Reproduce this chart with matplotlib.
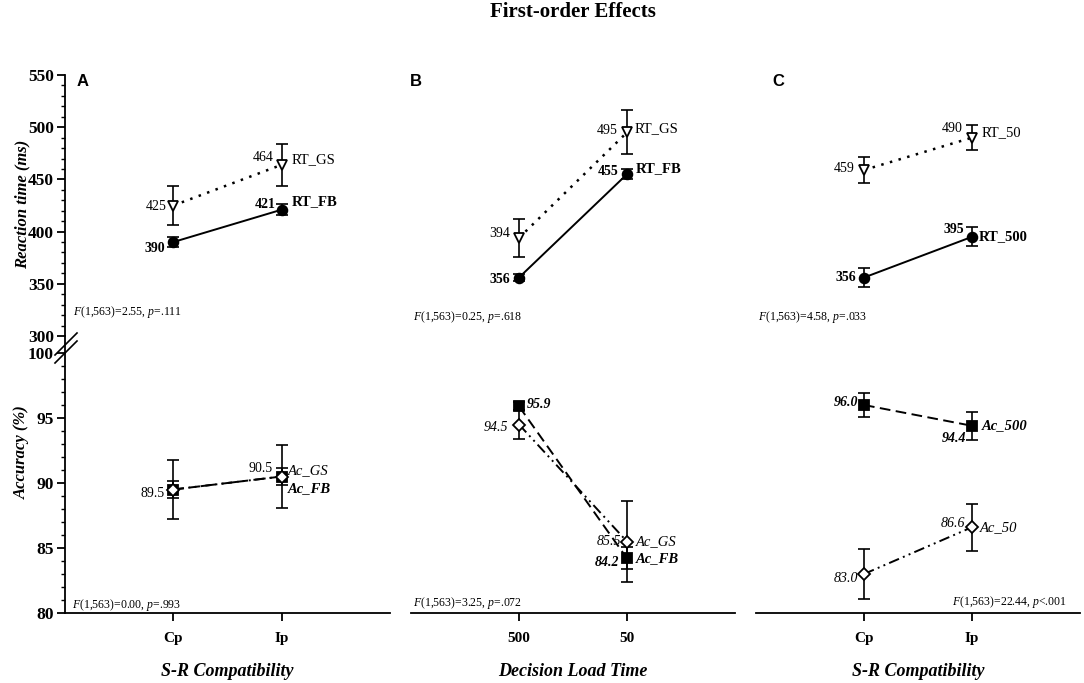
import matplotlib
matplotlib.use('Agg')
import matplotlib.pyplot as plt
from matplotlib.lines import Line2D
from matplotlib.ticker import MultipleLocator

plt.rcParams['font.family'] = 'Liberation Serif'
plt.rcParams['mathtext.fontset'] = 'custom'
plt.rcParams['mathtext.rm'] = 'Liberation Serif'
plt.rcParams['mathtext.it'] = 'Liberation Serif:italic'

# ---- data ----
a_ticks = ['Cp', 'Ip']
a_rt_gs = [425, 464]
a_rt_gs_err = [19, 20]
a_rt_fb = [390, 421]
a_rt_fb_err = [5, 5]
a_ac_gs = [89.5, 90.5]
a_ac_gs_err = [2.3, 2.4]
a_ac_fb = [89.5, 90.5]
a_ac_fb_err = [0.65, 0.65]

b_ticks = ['500', '50']
b_rt_gs = [394, 495]
b_rt_gs_err = [18, 21]
b_rt_fb = [356, 455]
b_rt_fb_err = [3, 5]
b_ac_gs = [94.5, 85.5]
b_ac_gs_err = [1.1, 3.1]
b_ac_fb = [95.9, 84.2]
b_ac_fb_err = [0.3, 0.85]

c_ticks = ['Cp', 'Ip']
c_rt_50 = [459, 490]
c_rt_50_err = [12, 12]
c_rt_500 = [356, 395]
c_rt_500_err = [9, 9]
c_ac_500 = [96.0, 94.4]
c_ac_500_err = [0.95, 1.1]
c_ac_50 = [83.0, 86.6]
c_ac_50_err = [1.9, 1.8]

stats_rt = ['$\\mathit{F}$(1,563)=2.55, $\\mathit{p}$=.111',
            '$\\mathit{F}$(1,563)=0.25, $\\mathit{p}$=.618',
            '$\\mathit{F}$(1,563)=4.58, $\\mathit{p}$=.033']
stats_ac = ['$\\mathit{F}$(1,563)=0.00, $\\mathit{p}$=.993',
            '$\\mathit{F}$(1,563)=3.25, $\\mathit{p}$=.072',
            '$\\mathit{F}$(1,563)=22.44, $\\mathit{p}$<.001']
x_titles = ['S-R Compatibility', 'Decision Load Time', 'S-R Compatibility']


# draw one series: error bars, connecting line, then markers on top
def draw_series(ax, vals, errs, marker, filled, ls, ms, line_z, mark_z, lw=1.4):
    x = [0, 1]
    ax.errorbar(x, vals, yerr=errs, fmt='none', ecolor='black',
                elinewidth=1.2, capsize=4.5, capthick=1.2, zorder=line_z)
    ax.plot(x, vals, color='black', ls=ls, lw=lw, zorder=line_z)
    ax.plot(x, vals, ls='none', marker=marker, ms=ms,
            mfc='black' if filled else 'white', mec='black', mew=1.3,
            zorder=mark_z)


def note(ax, x, y, s, dx, dy, ha='right', weight='normal', style='normal', size=10):
    ax.annotate(s, (x, y), xytext=(dx, dy), textcoords='offset pixels',
                ha=ha, va='center', fontsize=size, fontweight=weight,
                fontstyle=style, annotation_clip=False)


W, H = 1084, 683
fig = plt.figure(figsize=(W / 100, H / 100), dpi=100)

col_px = [(65, 390), (411, 735), (756, 1080)]
top_px = (75, 336)
bot_px = (353, 613)

dotted = (0, (1, 2.6))
dashed = (0, (5.5, 2.8))
dashdotdot = (0, (5.5, 2.2, 1, 2.2, 1, 2.2))

axes_top, axes_bot = [], []
for i, (x0, x1) in enumerate(col_px):
    at = fig.add_axes([x0 / W, 1 - top_px[1] / H, (x1 - x0) / W, (top_px[1] - top_px[0]) / H])
    ab = fig.add_axes([x0 / W, 1 - bot_px[1] / H, (x1 - x0) / W, (bot_px[1] - bot_px[0]) / H])
    for ax in (at, ab):
        ax.set_xlim(-1, 2)
        ax.patch.set_alpha(0)
        for s in ('top', 'right'):
            ax.spines[s].set_visible(False)
        ax.spines['left'].set_visible(i == 0)
        ax.spines['left'].set_linewidth(1.3)
    at.spines['bottom'].set_visible(False)
    ab.spines['bottom'].set_linewidth(1.3)
    at.set_ylim(300, 550)
    ab.set_ylim(80, 100)
    at.set_xticks([])
    ab.set_xticks([0, 1])
    ab.tick_params(axis='x', direction='out', length=6, width=1.3, pad=8,
                   labelsize=11)
    ab.set_xlabel(x_titles[i], fontsize=13, fontweight='bold', style='italic',
                  labelpad=13)
    if i == 0:
        at.yaxis.set_major_locator(MultipleLocator(50))
        at.yaxis.set_minor_locator(MultipleLocator(10))
        ab.yaxis.set_major_locator(MultipleLocator(5))
        ab.yaxis.set_minor_locator(MultipleLocator(1))
        for ax in (at, ab):
            ax.tick_params(axis='y', which='major', direction='out', length=6,
                           width=1.3, labelsize=12.5, pad=2)
            ax.tick_params(axis='y', which='minor', direction='out', length=3,
                           width=1.0)
            for lab in ax.get_yticklabels():
                lab.set_fontweight('bold')
    else:
        at.set_yticks([])
        ab.set_yticks([])
    axes_top.append(at)
    axes_bot.append(ab)

for ax, labels in zip(axes_bot, [a_ticks, b_ticks, c_ticks]):
    ax.set_xticklabels(labels, fontweight='bold')

# ---- panel A ----
ax = axes_top[0]
draw_series(ax, a_rt_fb, a_rt_fb_err, 'o', True, '-', 7, 2, 3)
draw_series(ax, a_rt_gs, a_rt_gs_err, 'v', False, dotted, 7, 2, 3, lw=1.8)
note(ax, 0, a_rt_gs[0], '425', -7, -1)
note(ax, 1, a_rt_gs[1], '464', -8, 7)
note(ax, 1, a_rt_gs[1], 'RT_GS', 10, 5, ha='left', size=10.5)
note(ax, 0, a_rt_fb[0], '390', -8, -6, weight='bold')
note(ax, 1, a_rt_fb[1], '421', -6, 5, weight='bold')
note(ax, 1, a_rt_fb[1], 'RT_FB', 10, 8, ha='left', weight='bold', size=10.5)

ax = axes_bot[0]
draw_series(ax, a_ac_gs, a_ac_gs_err, 'D', False, dashdotdot, 6, 2, 4)
draw_series(ax, a_ac_fb, a_ac_fb_err, 's', True, dashed, 6.5, 2.5, 3)
note(ax, 0, a_ac_gs[0], '89.5', -9, -4)
note(ax, 1, a_ac_gs[1], '90.5', -9, 8)
note(ax, 1, a_ac_gs[1], 'Ac_GS', 6, 6, ha='left', style='italic', size=10.5)
note(ax, 1, a_ac_fb[1], 'Ac_FB', 6, -12, ha='left', style='italic', weight='bold', size=10.5)

# ---- panel B ----
ax = axes_top[1]
draw_series(ax, b_rt_fb, b_rt_fb_err, 'o', True, '-', 7, 2, 3)
draw_series(ax, b_rt_gs, b_rt_gs_err, 'v', False, dotted, 7, 2, 3, lw=1.8)
note(ax, 0, b_rt_gs[0], '394', -9, 4)
note(ax, 1, b_rt_gs[1], '495', -9, 2)
note(ax, 1, b_rt_gs[1], 'RT_GS', 8, 4, ha='left', size=10.5)
note(ax, 0, b_rt_fb[0], '356', -9, -2, weight='bold')
note(ax, 1, b_rt_fb[1], '455', -9, 3, weight='bold')
note(ax, 1, b_rt_fb[1], 'RT_FB', 9, 6, ha='left', weight='bold', size=10.5)

ax = axes_bot[1]
draw_series(ax, b_ac_gs, b_ac_gs_err, 'D', False, dashdotdot, 6, 2, 3)
draw_series(ax, b_ac_fb, b_ac_fb_err, 's', True, dashed, 6.5, 2, 4)
note(ax, 0, b_ac_fb[0], '95.9', 8, 2, ha='left', weight='bold', style='italic')
note(ax, 0, b_ac_gs[0], '94.5', -11, -3, style='italic')
note(ax, 1, b_ac_gs[1], '85.5', -6, 0, style='italic')
note(ax, 1, b_ac_gs[1], 'Ac_GS', 9, 0, ha='left', style='italic', size=10.5)
note(ax, 1, b_ac_fb[1], '84.2', -8, -4, weight='bold', style='italic')
note(ax, 1, b_ac_fb[1], 'Ac_FB', 9, 0, ha='left', weight='bold', style='italic', size=10.5)

# ---- panel C ----
ax = axes_top[2]
draw_series(ax, c_rt_500, c_rt_500_err, 'o', True, '-', 7, 2, 3)
draw_series(ax, c_rt_50, c_rt_50_err, 'v', False, dotted, 7, 2, 3, lw=1.8)
note(ax, 0, c_rt_50[0], '459', -9, 2)
note(ax, 1, c_rt_50[1], '490', -9, 9)
note(ax, 1, c_rt_50[1], 'RT_50', 10, 5, ha='left', size=10.5)
note(ax, 0, c_rt_500[0], '356', -8, 0, weight='bold')
note(ax, 1, c_rt_500[1], '395', -8, 7, weight='bold')
note(ax, 1, c_rt_500[1], 'RT_500', 7, 0, ha='left', weight='bold', size=10.5)

ax = axes_bot[2]
draw_series(ax, c_ac_50, c_ac_50_err, 'D', False, dashdotdot, 6, 2, 3)
draw_series(ax, c_ac_500, c_ac_500_err, 's', True, dashed, 6.5, 2, 3)
note(ax, 0, c_ac_500[0], '96.0', -6, 3, weight='bold', style='italic')
note(ax, 1, c_ac_500[1], '94.4', -6, -13, weight='bold', style='italic')
note(ax, 1, c_ac_500[1], 'Ac_500', 10, 0, ha='left', weight='bold', style='italic', size=10.5)
note(ax, 0, c_ac_50[0], '83.0', -6, -4, style='italic')
note(ax, 1, c_ac_50[1], '86.6', -7, 4, style='italic')
note(ax, 1, c_ac_50[1], 'Ac_50', 8, 0, ha='left', style='italic', size=10.5)

# ---- statistics ----
for ax, s, (x, y) in zip(axes_top, stats_rt, [(0.025, 0.092), (0.006, 0.073), (0.006, 0.073)]):
    ax.text(x, y, s, transform=ax.transAxes, fontsize=8.5, va='center', ha='left')
for ax, s, (x, y, ha) in zip(axes_bot, stats_ac,
                             [(0.022, 0.031, 'left'), (0.006, 0.038, 'left'), (0.96, 0.042, 'right')]):
    ax.text(x, y, s, transform=ax.transAxes, fontsize=8.5, va='center', ha=ha)

# ---- axis break on the shared y axis ----
fig.add_artist(Line2D([65 / W, 65 / W], [1 - 336 / H, 1 - 353 / H], color='black', lw=1.3))
for y_lo, y_hi in [(355, 333), (363, 341)]:
    fig.add_artist(Line2D([55 / W, 77 / W], [1 - y_lo / H, 1 - y_hi / H], color='black', lw=1.2))

# ---- labels and title ----
fig.text(22 / W, 1 - 204 / H, 'Reaction time (ms)', rotation=90, ha='center', va='center',
         fontsize=12, fontweight='bold', style='italic')
fig.text(22 / W, 1 - 452 / H, 'Accuracy (%)', rotation=90, ha='center', va='center',
         fontsize=12, fontweight='bold', style='italic')
for s, x in zip(['A', 'B', 'C'], [77, 410, 772]):
    fig.text(x / W, 1 - 82 / H, s, family='Liberation Sans', fontweight='bold',
             fontsize=12, ha='left', va='center')
fig.text(573 / W, 1 - 12 / H, 'First-order Effects', ha='center', va='center',
         fontsize=15, fontweight='bold')

fig.savefig('out.png', dpi=100)
